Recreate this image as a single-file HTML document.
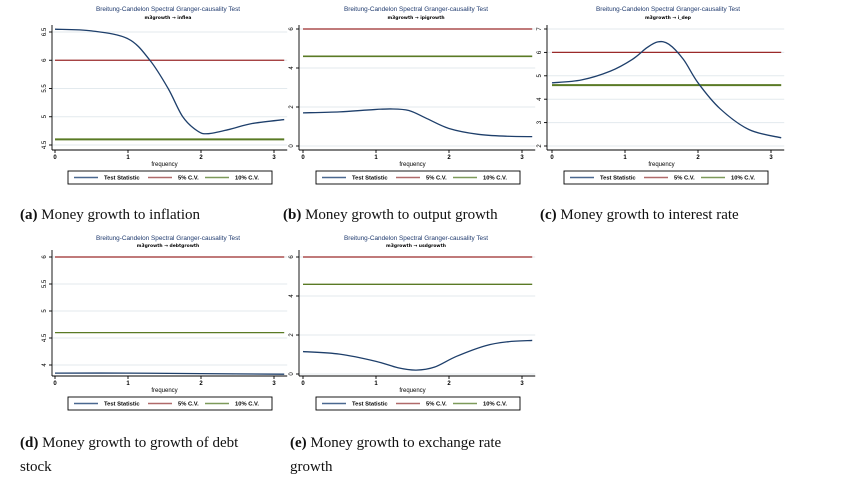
<!DOCTYPE html>
<html><head><meta charset="utf-8"><style>
body{margin:0;background:#fff;width:842px;height:481px;overflow:hidden;position:relative}
.cap{position:absolute;font-family:"Liberation Serif",serif;font-size:15px;color:#111;line-height:24px}
svg text{font-family:"Liberation Sans",sans-serif}
</style></head><body>
<svg id="chart" width="842" height="481" style="position:absolute;left:0;top:0"></svg>
<div class="cap" style="left:20px;top:203px"><b>(a)</b> Money growth to inflation</div>
<div class="cap" style="left:283px;top:203px"><b>(b)</b> Money growth to output growth</div>
<div class="cap" style="left:540px;top:203px"><b>(c)</b> Money growth to interest rate</div>
<div class="cap" style="left:20px;top:431px;width:260px"><b>(d)</b> Money growth to growth of debt<br>stock</div>
<div class="cap" style="left:290px;top:431px;width:250px"><b>(e)</b> Money growth to exchange rate<br>growth</div>
<script>
const freqA=[0,0.5,1,1.3,1.55,1.75,1.95,2.1,2.4,2.7,3.14];
const statA=[6.55,6.52,6.38,6.0,5.5,5.0,4.75,4.7,4.78,4.88,4.95];
const freqB=[0,0.5,0.9,1.2,1.45,1.7,2.0,2.4,2.8,3.14];
const statB=[1.7,1.75,1.85,1.9,1.82,1.4,0.9,0.6,0.5,0.48];
const freqC=[0,0.4,0.8,1.1,1.3,1.45,1.6,1.8,2.0,2.3,2.7,3.14];
const statC=[4.7,4.82,5.2,5.7,6.2,6.45,6.35,5.7,4.7,3.6,2.7,2.35];
const freqD=[0,1,2,3.14];
const statD=[3.85,3.85,3.84,3.83];
const freqE=[0,0.5,1,1.3,1.55,1.8,2.1,2.5,2.8,3.14];
const statE=[1.15,1.02,0.65,0.32,0.2,0.35,0.9,1.45,1.65,1.72];
const cv5=[6,6,6,6,6];
const cv10=[4.6,4.6,4.6,4.6,4.6];
const subtitles=["m3growth \u2192 inflea","m3growth \u2192 ipigrowth","m3growth \u2192 i_dep","m3growth \u2192 debtgrowth","m3growth \u2192 usdgrowth"];
const yTicksA=[4.5,5,5.5,6,6.5], yTicksB=[0,2,4,6], yTicksC=[2,3,4,5,6,7], yTicksD=[4,4.5,5,5.5,6], yTicksE=[0,2,4,6];
const xTicks=[0,1,2,3];

const NS="http://www.w3.org/2000/svg";
const svg=document.getElementById('chart');
function el(t,a,p){const e=document.createElementNS(NS,t);for(const k in a)e.setAttribute(k,a[k]);(p||svg).appendChild(e);return e;}
function smooth(pts){let d=`M${pts[0][0]},${pts[0][1]}`;for(let i=0;i<pts.length-1;i++){const p0=pts[i-1]||pts[i],p1=pts[i],p2=pts[i+1],p3=pts[i+2]||p2;
const c1=[p1[0]+(p2[0]-p0[0])/6,p1[1]+(p2[1]-p0[1])/6],c2=[p2[0]-(p3[0]-p1[0])/6,p2[1]-(p3[1]-p1[1])/6];
d+=` C${c1[0]},${c1[1]} ${c2[0]},${c2[1]} ${p2[0]},${p2[1]}`;}return d;}
const panels=[
 {id:'a',ox:0,oy:0,ax:52,x0:55,yT:yTicksA,y1:145,y2:32,bot:150,top:25,f:freqA,s:statA,cx:168,sub:subtitles[0],w10:2},
 {id:'b',ox:248,oy:0,ax:51,x0:55,yT:yTicksB,y1:146,y2:29,bot:150,top:25,f:freqB,s:statB,cx:168,sub:subtitles[1],w10:1.6},
 {id:'c',ox:496,oy:0,ax:51,x0:56,yT:yTicksC,y1:146,y2:29,bot:150,top:25,f:freqC,s:statC,cx:172,sub:subtitles[2],w10:2},
 {id:'d',ox:0,oy:230,ax:52,x0:55,yT:yTicksD,y1:135,y2:27,bot:146,top:20,f:freqD,s:statD,cx:168,sub:subtitles[3],w10:1.3},
 {id:'e',ox:248,oy:230,ax:51,x0:55,yT:yTicksE,y1:144,y2:27,bot:146,top:20,f:freqE,s:statE,cx:168,sub:subtitles[4],w10:1.3}];
panels.forEach(P=>{
 const g=el('g',{transform:`translate(${P.ox},${P.oy})`});
 
 
 const X=v=>P.x0+v*73;
 const lo=P.yT[0],hi=P.yT[P.yT.length-1];
 const Y=v=>P.y1+(v-lo)*(P.y2-P.y1)/(hi-lo);
 const xEnd=X(3.14);
 const t=el('text',{x:P.cx,y:P.oy?10:11,'text-anchor':'middle','font-size':'6.4',fill:'#1f3a6e'},g);t.textContent='Breitung-Candelon Spectral Granger-causality Test';
 
 const st=el('text',{x:P.cx,y:P.oy?17:19,'text-anchor':'middle','font-size':'4.5','font-weight':'bold',fill:'#000',style:'font-family:"DejaVu Sans",sans-serif'},g);st.textContent=P.sub;
 
 P.yT.forEach(v=>{const y=Y(v);
  const gl=el('line',{x1:P.ax,x2:xEnd+3,y1:y,y2:y,stroke:'#e3eaee','stroke-width':1},g);
  
  el('line',{x1:P.ax-3,x2:P.ax,y1:y,y2:y,stroke:'#000','stroke-width':0.9},g);
  const tl=el('text',{x:P.ax-6,y:y,'font-size':'6','text-anchor':'middle',transform:`rotate(-90 ${P.ax-6} ${y})`,fill:'#000'},g);
  tl.textContent=String(v);});
 el('line',{x1:P.ax,x2:P.ax,y1:P.top,y2:P.bot,stroke:'#000','stroke-width':0.9},g);
 el('line',{x1:P.ax,x2:xEnd+3,y1:P.bot,y2:P.bot,stroke:'#000','stroke-width':0.9},g);
 xTicks.forEach(v=>{const x=X(v);el('line',{x1:x,x2:x,y1:P.bot,y2:P.bot+3,stroke:'#000','stroke-width':0.9},g);
  const tl=el('text',{x:x,y:P.bot+9,'font-size':'6','font-weight':'bold','text-anchor':'middle'},g);tl.textContent=v;
  });
 const xt=el('text',{x:X(1.5),y:P.bot+16,'font-size':'6','text-anchor':'middle'},g);xt.textContent='frequency';
 
 const l5=el('line',{x1:X(0),x2:xEnd,y1:Y(cv5[0]),y2:Y(cv5[0]),stroke:'#9b2a2a','stroke-width':1.2},g);
 
 const l10=el('line',{x1:X(0),x2:xEnd,y1:Y(cv10[0]),y2:Y(cv10[0]),stroke:'#5a7a25','stroke-width':P.w10},g);
 
 const pts=P.f.map((f,i)=>[X(f),Y(P.s[i])]);
 const pl=el('path',{d:smooth(pts),fill:'none',stroke:'#1e3f6b','stroke-width':1.3},g);
 
 const ly=P.bot+21;
 const lg=el('g',{},g);
 el('rect',{x:68,y:ly,width:204,height:13,fill:'#fff',stroke:'#000','stroke-width':0.9},lg);
 [['Test Statistic','#4a6890',74],['5% C.V.','#b06a6a',148],['10% C.V.','#7d9a5a',205]].forEach(([n,c,x])=>{
  el('line',{x1:x,x2:x+24,y1:ly+6.5,y2:ly+6.5,stroke:c,'stroke-width':1.6},lg);
  const tx=el('text',{x:x+30,y:ly+8.5,'font-size':'5.8','font-weight':'bold'},lg);tx.textContent=n;
  });
});
</script>
</body></html>
